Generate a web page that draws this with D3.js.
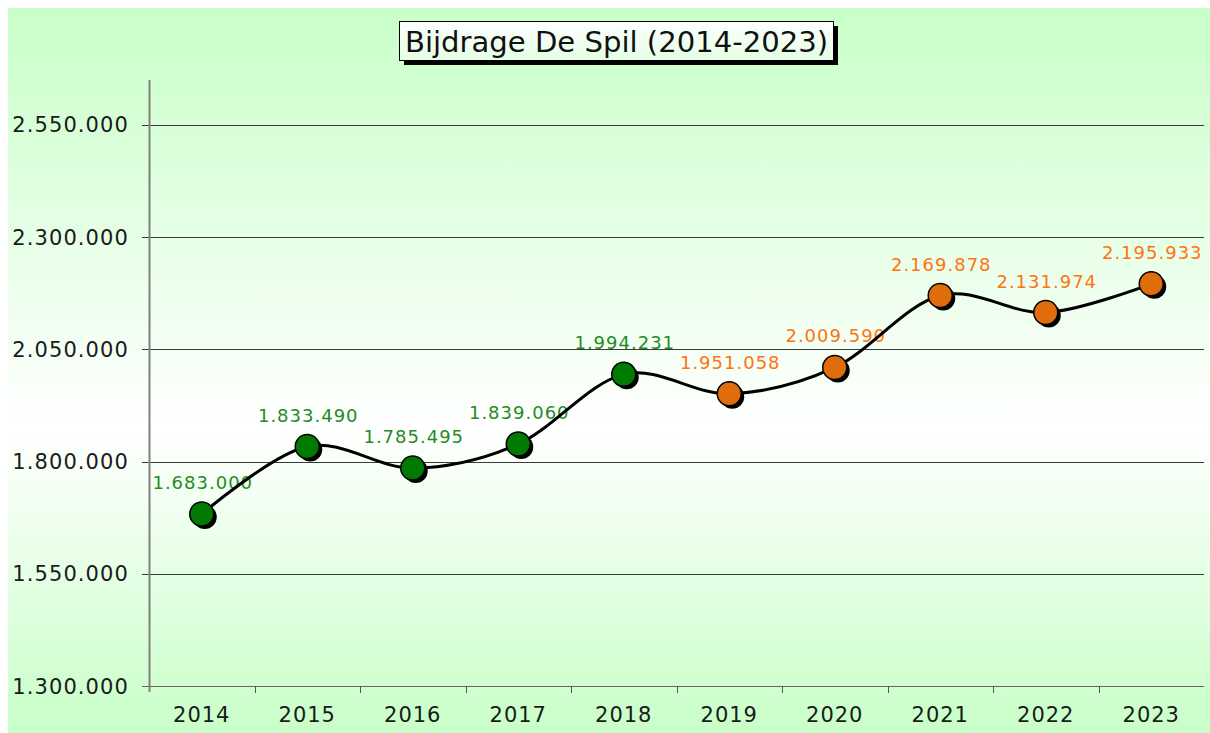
<!DOCTYPE html>
<html>
<head>
<meta charset="utf-8">
<script src="https://cdn.jsdelivr.net/npm/d3@7"></script>
<style>
  html, body { margin: 0; padding: 0; background: #ffffff; }
  svg { display: block; }
  text { font-family: "DejaVu Sans", Verdana, sans-serif; }
</style>
</head>
<body>
<div id="chart"></div>
<script>
// Chart data
const years = ['2014', '2015', '2016', '2017', '2018', '2019', '2020', '2021', '2022', '2023'];
const values = [1683000, 1833490, 1785495, 1839060, 1994231, 1951058, 2009590, 2169878, 2131974, 2195933];
const pointColors = ['#007a00', '#007a00', '#007a00', '#007a00', '#007a00', '#e06d0c', '#e06d0c', '#e06d0c', '#e06d0c', '#e06d0c'];
const labelColors = ['#1f8c1f', '#1f8c1f', '#1f8c1f', '#1f8c1f', '#1f8c1f', '#ff7412', '#ff7412', '#ff7412', '#ff7412', '#ff7412'];
const yTicks = [1300000, 1550000, 1800000, 2050000, 2300000, 2550000];
const title = 'Bijdrage De Spil (2014-2023)';

const W = 1210, H = 733;
const plot = { left: 149, right: 1204, top: 80, bottom: 686 };

// Dutch number format: 1.683.000
const fmt = v => d3.format(',')(v).replace(/,/g, '.');

const svg = d3.select('#chart').append('svg')
  .attr('width', W)
  .attr('height', H);

const defs = svg.append('defs');
const bg = defs.append('linearGradient')
  .attr('id', 'bg').attr('x1', 0).attr('y1', 0).attr('x2', 0).attr('y2', 1);
bg.append('stop').attr('offset', '0%').attr('stop-color', '#c8ffc8');
bg.append('stop').attr('offset', '58%').attr('stop-color', '#ffffff');
bg.append('stop').attr('offset', '100%').attr('stop-color', '#c8ffc8');

const tb = defs.append('linearGradient')
  .attr('id', 'titlebg').attr('x1', 0).attr('y1', 0).attr('x2', 0).attr('y2', 1);
tb.append('stop').attr('offset', '0%').attr('stop-color', '#ffffff');
tb.append('stop').attr('offset', '100%').attr('stop-color', '#e4ffe4');

// Chart background
svg.append('rect')
  .attr('x', 8).attr('y', 8)
  .attr('width', W - 8).attr('height', H - 8)
  .attr('fill', 'url(#bg)');

// Scales
const x = d3.scaleBand()
  .domain(years)
  .range([plot.left, plot.right]);

const y = d3.scaleLinear()
  .domain([1300000, 2650000])
  .range([plot.bottom, plot.top]);

// Gridlines
svg.append('g')
  .selectAll('line')
  .data(yTicks)
  .enter()
  .append('line')
  .attr('x1', plot.left - 7)
  .attr('x2', plot.right)
  .attr('y1', d => Math.round(y(d)) + 0.5)
  .attr('y2', d => Math.round(y(d)) + 0.5)
  .attr('stroke', d => d === 1300000 ? '#666666' : '#3a3a3a')
  .attr('stroke-width', 1);

// Y axis line
svg.append('line')
  .attr('x1', plot.left + 0.5).attr('x2', plot.left + 0.5)
  .attr('y1', plot.top).attr('y2', plot.bottom + 6)
  .attr('stroke', '#808080')
  .attr('stroke-width', 2);

// Y tick labels
svg.append('g')
  .selectAll('text')
  .data(yTicks)
  .enter()
  .append('text')
  .attr('x', 129)
  .attr('y', d => y(d))
  .attr('dy', '0.36em')
  .attr('text-anchor', 'end')
  .attr('font-size', '21px')
  .attr('letter-spacing', '1.1px')
  .attr('fill', '#1a1a1a')
  .text(fmt);

// X ticks at category boundaries
const bounds = years.map(d => x(d)).concat([plot.right]);
svg.append('g')
  .selectAll('line')
  .data(bounds.slice(1, -1))
  .enter()
  .append('line')
  .attr('x1', d => Math.round(d) + 0.5)
  .attr('x2', d => Math.round(d) + 0.5)
  .attr('y1', plot.bottom)
  .attr('y2', plot.bottom + 7)
  .attr('stroke', '#555555')
  .attr('stroke-width', 1);

// X labels
svg.append('g')
  .selectAll('text')
  .data(years)
  .enter()
  .append('text')
  .attr('x', d => x(d) + x.bandwidth() / 2)
  .attr('y', 722)
  .attr('text-anchor', 'middle')
  .attr('font-size', '21px')
  .attr('letter-spacing', '1px')
  .attr('fill', '#1a1a1a')
  .text(d => d);

const pts = years.map((d, i) => ({
  year: d,
  value: values[i],
  cx: x(d) + x.bandwidth() / 2,
  cy: y(values[i]),
  color: pointColors[i],
  labelColor: labelColors[i]
}));

// Data labels (drawn below the line, like the original)
svg.append('g')
  .selectAll('text')
  .data(pts)
  .enter()
  .append('text')
  .attr('x', d => d.cx + 1)
  .attr('y', d => d.cy - 25)
  .attr('text-anchor', 'middle')
  .attr('font-size', '18px')
  .attr('letter-spacing', '1px')
  .attr('fill', d => d.labelColor)
  .text(d => fmt(d.value));

// Smoothed line
const line = d3.line()
  .x(d => d.cx)
  .y(d => d.cy)
  .curve(d3.curveCardinal.tension(0));

svg.append('path')
  .datum(pts)
  .attr('d', line)
  .attr('fill', 'none')
  .attr('stroke', '#000000')
  .attr('stroke-width', 3);

// Markers with shadow
const markers = svg.append('g')
  .selectAll('g')
  .data(pts)
  .enter()
  .append('g');

markers.append('circle')
  .attr('cx', d => d.cx + 3)
  .attr('cy', d => d.cy + 3)
  .attr('r', 12)
  .attr('fill', '#000000');

markers.append('circle')
  .attr('cx', d => d.cx)
  .attr('cy', d => d.cy)
  .attr('r', 12)
  .attr('fill', d => d.color)
  .attr('stroke', '#000000')
  .attr('stroke-width', 1.5);

// Title box
const tg = svg.append('g');
tg.append('rect')
  .attr('x', 404).attr('y', 26)
  .attr('width', 434).attr('height', 39)
  .attr('fill', '#000000');
tg.append('rect')
  .attr('x', 399.5).attr('y', 21.5)
  .attr('width', 434).attr('height', 39)
  .attr('fill', 'url(#titlebg)')
  .attr('stroke', '#000000')
  .attr('stroke-width', 1);
tg.append('text')
  .attr('x', 405)
  .attr('y', 52)
  .attr('font-size', '28px')
  .attr('textLength', 423)
  .attr('lengthAdjust', 'spacingAndGlyphs')
  .attr('fill', '#111111')
  .text(title);
</script>
</body>
</html>
